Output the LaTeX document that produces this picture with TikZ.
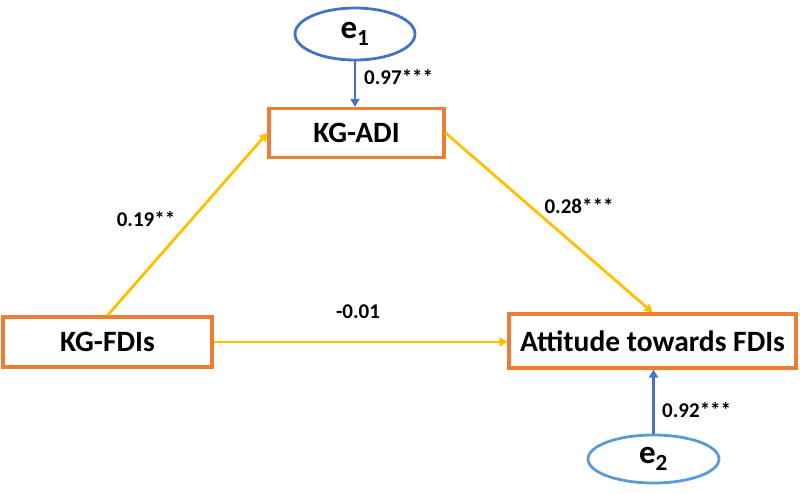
\documentclass[tikz,border=0pt]{standalone}
\usepackage{fontspec}
\setmainfont{Carlito}
\usetikzlibrary{arrows.meta,shapes.geometric}
\definecolor{boxor}{HTML}{ED7D31}
\definecolor{arry}{HTML}{FFC000}
\definecolor{eblue}{HTML}{4472C4}
\definecolor{eblue2}{HTML}{5B9BD5}
\begin{document}
\begin{tikzpicture}[x=1pt,y=-1pt,
  varbox/.style={draw=boxor,line width=3.2pt,fill=white,inner sep=0pt,font=\fontsize{29.5}{34}\selectfont\bfseries},
  errell/.style={ellipse,line width=2.8pt,inner sep=0pt,font=\fontsize{33}{38}\selectfont\bfseries},
  patharrow/.style={draw=arry,line width=2.8pt,-{Triangle[width=9pt,length=8pt]}},
  errarrow/.style={line width=2.8pt,-{Triangle[width=9pt,length=8pt]}},
  coef/.style={font=\fontsize{21}{24}\selectfont\bfseries,inner sep=0pt}]
\useasboundingbox (0,0) rectangle (800,493);
\node[varbox,minimum width=175pt,minimum height=49pt] (adi) at (356.5,133) {KG-ADI};
\node[varbox,minimum width=209pt,minimum height=50pt] (fdi) at (107.5,342) {KG-FDIs};
\node[varbox,minimum width=287pt,minimum height=54pt] (att) at (652.5,341) {Attitude towards FDIs};
\node[errell,draw=eblue,minimum width=120pt,minimum height=52pt] (e1) at (355,34) {e$_{\mathbf 1}$};
\node[errell,draw=eblue2,minimum width=131pt,minimum height=48pt] (e2) at (653.5,459) {e$_{\mathbf 2}$};
\draw[errarrow,draw=eblue] (e1.south) -- (e1.south |- adi.north);
\draw[errarrow,draw=eblue] (e2.north) -- (e2.north |- att.south);
\draw[patharrow] (fdi.north) -- (adi.west);
\draw[patharrow] (adi.east) -- (att.north);
\draw[patharrow] (fdi.east) -- (fdi.east -| att.west);
\node[coef,anchor=west] (c1) at (364,77) {0.97***};
\node[coef,anchor=west] (c2) at (662,410) {0.92***};
\node[coef] (c3) at (146,219) {0.19**};
\node[coef] (c4) at (579,206) {0.28***};
\node[coef] (c5) at (358,312) {-0.01};
\end{tikzpicture}
\end{document}
